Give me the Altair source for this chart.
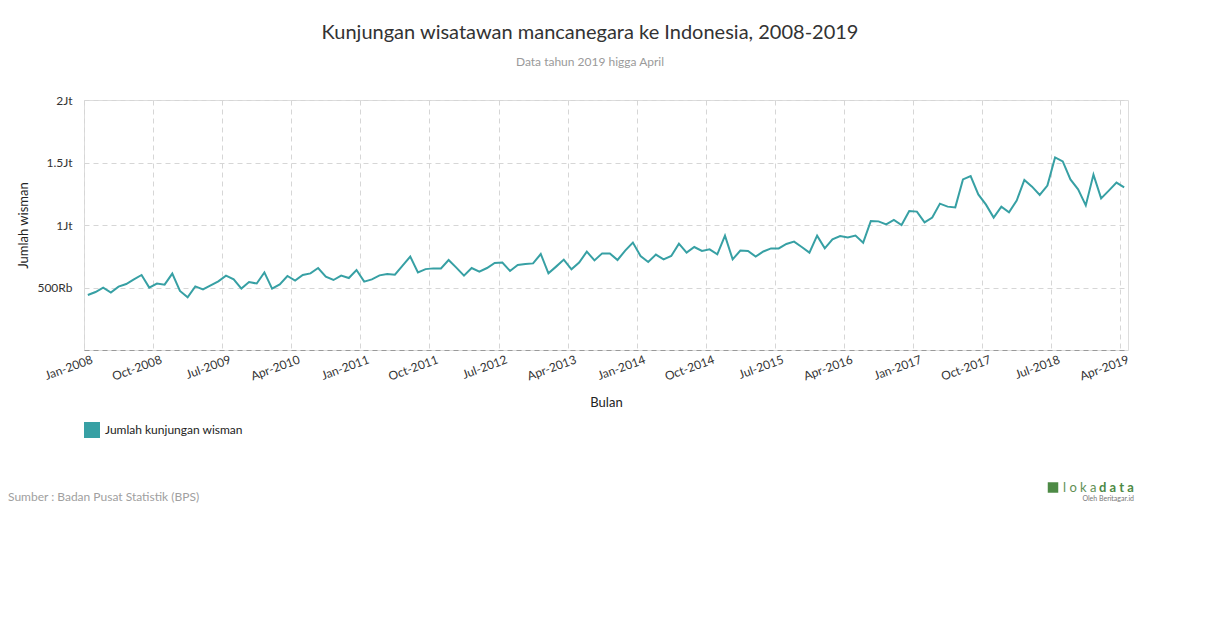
import altair as alt
import pandas as pd

# ---------------- data ----------------
months = list(pd.date_range("2008-01-01", periods=136, freq="MS").strftime("%b-%Y"))

visitors = [
    440000, 464000, 499000, 459000, 507000, 528000, 565000, 600000, 499000, 531000, 523000, 611000,
    472000, 421000, 509000, 485000, 517000, 549000, 595000, 565000, 491000, 544000, 532000, 621000,
    491000, 525000, 592000, 555000, 600000, 613000, 656000, 587000, 560000, 595000, 576000, 640000,
    547000, 565000, 597000, 608000, 603000, 675000, 747000, 621000, 647000, 653000, 653000, 720000,
    659000, 595000, 656000, 627000, 656000, 696000, 699000, 632000, 680000, 688000, 693000, 768000,
    613000, 667000, 723000, 645000, 699000, 787000, 717000, 773000, 773000, 720000, 795000, 859000,
    752000, 704000, 763000, 725000, 752000, 851000, 779000, 824000, 792000, 805000, 765000, 915000,
    725000, 795000, 792000, 747000, 788000, 813000, 813000, 848000, 867000, 824000, 779000, 915000,
    813000, 885000, 912000, 901000, 915000, 859000, 1032000, 1029000, 1005000, 1040000, 1000000, 1112000,
    1107000, 1021000, 1060000, 1171000, 1147000, 1141000, 1365000, 1392000, 1245000, 1163000, 1059000, 1147000,
    1101000, 1195000, 1360000, 1307000, 1240000, 1315000, 1541000, 1509000, 1365000, 1285000, 1157000, 1403000,
    1213000, 1275000, 1339000, 1301000,
]

tick_labels = ["Jan-2008", "Oct-2008", "Jul-2009", "Apr-2010", "Jan-2011", "Oct-2011", "Jul-2012",
               "Apr-2013", "Jan-2014", "Oct-2014", "Jul-2015", "Apr-2016", "Jan-2017", "Oct-2017",
               "Jul-2018", "Apr-2019"]

y_ticks = [0, 500000, 1000000, 1500000, 2000000]

series_name = "Jumlah kunjungan wisman"
title_text = "Kunjungan wisatawan mancanegara ke Indonesia, 2008-2019"
subtitle_text = "Data tahun 2019 higga April"
source_text = "Sumber : Badan Pusat Statistik (BPS)"

# ---------------- build ----------------
df = pd.DataFrame({
    "idx": list(range(len(months))),
    "month": months,
    "visitors": visitors,
    "series": [series_name] * len(months),
})

tick_pos = [months.index(l) - 0.5 for l in tick_labels]
pos_js = "[" + ",".join(str(p) for p in tick_pos) + "]"
lab_js = "[" + ",".join("'" + l + "'" for l in tick_labels) + "]"
x_label_expr = f"{lab_js}[indexof({pos_js}, datum.value)]"

TEAL = "#37a0a4"
OX, OY = 84, 100  # plot origin on page
W, H = 1044, 250

x_enc = alt.X(
    "idx:Q",
    scale=alt.Scale(domain=[-0.5, len(months) - 0.5], nice=False, zero=False),
    axis=alt.Axis(
        values=tick_pos, labelExpr=x_label_expr, title="Bulan",
        labelAngle=-20, labelAlign="right", labelBaseline="top", labelPadding=4, labelOffset=6,
        labelFontSize=12, labelColor="#333333", labelFont="Lato",
        ticks=False, grid=True, gridDash=[5, 4], gridColor="#d6d6d6", gridWidth=1,
        domain=True, domainColor="#9a9a9a", domainDash=[5, 4], domainWidth=1,
        titleFontSize=13, titleFontWeight="normal", titleColor="#222222", titleFont="Lato",
        titleX=522, titleY=46, titleBaseline="top", labelOverlap=False, labelFlush=False,
    ),
)

y_enc = alt.Y(
    "visitors:Q",
    scale=alt.Scale(domain=[0, 2000000], nice=False),
    axis=alt.Axis(
        values=y_ticks,
        labelExpr="datum.value == 0 ? '' : (datum.value >= 1000000 ? (datum.value / 1000000) + 'Jt' : (datum.value / 1000) + 'Rb')",
        title="Jumlah wisman", titleFontSize=13, titleFontWeight="normal", titleColor="#222222",
        titleFont="Lato", titleX=-54, titleY=125, titleAngle=-90, titleBaseline="bottom",
        labelFontSize=12, labelColor="#333333", labelFont="Lato", labelPadding=12,
        ticks=False, domain=False, grid=True, gridDash=[5, 4], gridColor="#d6d6d6", gridWidth=1,
    ),
)

line = alt.Chart(df).mark_line(strokeWidth=2).encode(
    x=x_enc,
    y=y_enc,
    color=alt.Color(
        "series:N",
        scale=alt.Scale(domain=[series_name], range=[TEAL]),
        legend=alt.Legend(
            orient="none", legendX=0, legendY=322, title=None,
            symbolType="square", symbolSize=64, symbolStrokeWidth=8,
            symbolFillColor=TEAL, symbolStrokeColor=TEAL,
            labelFontSize=12, labelColor="#222222", labelFont="Lato",
            padding=0, labelOffset=5, symbolOffset=0,
        ),
    ),
)


def txt(s, px, py, size, color, weight="normal", align="center", baseline="middle"):
    return alt.Chart(pd.DataFrame({"t": [s]})).mark_text(
        fontSize=size, color=color, fontWeight=weight, align=align, baseline=baseline, font="Lato"
    ).encode(x=alt.value(px - OX), y=alt.value(py - OY), text="t:N")


title_mark = txt(title_text, 590, 33, 20, "#333333")
subtitle_mark = txt(subtitle_text, 590, 62, 12, "#9a9a9a")
source_mark = txt(source_text, 8, 497, 12, "#a0a0a0", align="left")
logo_icon = alt.Chart(pd.DataFrame({"t": ["i"]})).mark_square(
    size=110, color="#4d8a45", opacity=1, filled=True, cornerRadius=3
).encode(x=alt.value(1053 - OX), y=alt.value(487.5 - OY))
logo_a = txt("l o k a", 1063, 488, 13, "#5f8f55", align="left")
logo_b = txt("d a t a", 1099, 488, 13, "#4d8a45", weight="bold", align="left")
logo_c = txt("Oleh Beritagar.id", 1134, 499, 7, "#777777", align="right")

chart = alt.layer(
    line, title_mark, subtitle_mark, source_mark, logo_icon, logo_a, logo_b, logo_c
).properties(
    width=W, height=H,
    padding={"left": OX - 8, "top": OY - 8, "right": 60, "bottom": 160},
    autosize=alt.AutoSizeParams(type="none"),
    background="white",
).configure_view(stroke="transparent", strokeWidth=0).configure(font="Lato")

chart.save("out.html", embed_options={"renderer": "svg", "actions": False})
